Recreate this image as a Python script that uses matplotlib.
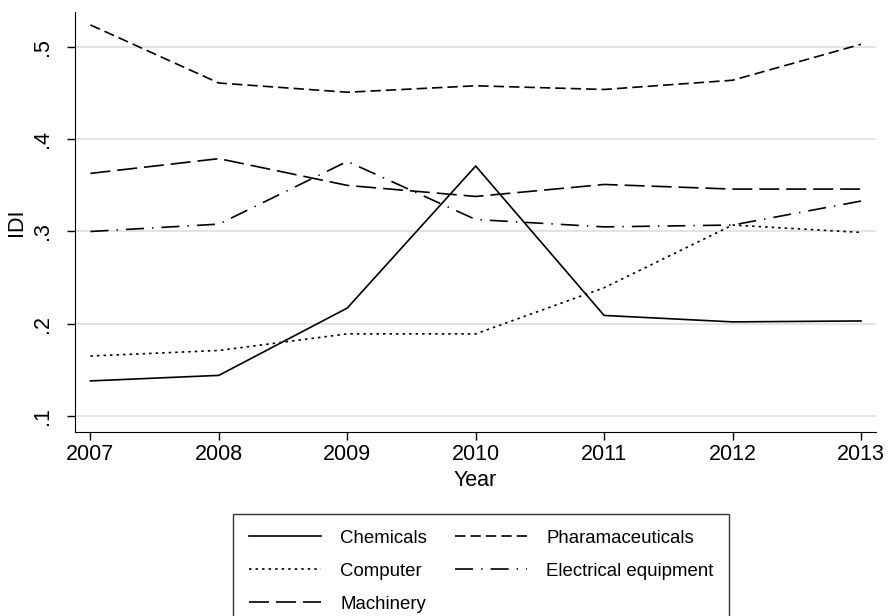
import matplotlib
matplotlib.use("Agg")
from matplotlib import pyplot as plt

# Values
years = [2007, 2008, 2009, 2010, 2011, 2012, 2013]
chemicals = [0.138, 0.144, 0.217, 0.371, 0.209, 0.202, 0.203]
computer = [0.165, 0.171, 0.189, 0.189, 0.239, 0.307, 0.299]
pharma = [0.524, 0.461, 0.451, 0.458, 0.454, 0.464, 0.503]
electrical = [0.300, 0.308, 0.376, 0.313, 0.305, 0.307, 0.333]
machinery = [0.363, 0.379, 0.350, 0.338, 0.351, 0.346, 0.346]
yticks = [0.1, 0.2, 0.3, 0.4, 0.5]
ytick_labels = [".1", ".2", ".3", ".4", ".5"]

plt.rcParams["font.family"] = ["Liberation Sans", "DejaVu Sans"]
plt.rcParams["lines.scale_dashes"] = False

fig = plt.figure(figsize=(8.89, 6.16), dpi=100)
# axes box: spine at x=75..876 px, y=12..432 px
ax = fig.add_axes([75 / 889, 1 - 432 / 616, 801 / 889, 420 / 616])

lw = 1.2
l_chem, = ax.plot(years, chemicals, color="black", lw=lw, label="Chemicals")
l_comp, = ax.plot(years, computer, color="black", lw=lw, dashes=(1.8, 2.9), label="Computer")
l_mach, = ax.plot(years, machinery, color="black", lw=lw, dashes=(14.4, 5.0), label="Machinery")
l_phar, = ax.plot(years, pharma, color="black", lw=lw, dashes=(7.5, 3.6), label="Pharamaceuticals")
l_elec, = ax.plot(years, electrical, color="black", lw=lw, dashes=(13.0, 5.8, 1.0, 5.8), label="Electrical equipment")

ax.set_xlim(2006.88, 2013.117)
ax.set_ylim(0.0826, 0.538)
ax.set_xticks(years)
ax.set_yticks(yticks)
ax.set_yticklabels(ytick_labels, rotation=90, va="center")
ax.tick_params(axis="both", direction="out", length=5.5, width=1, labelsize=15.5, colors="black")
ax.tick_params(axis="y", pad=10)
ax.grid(axis="y", color="#e3e3e3", lw=1.4)
ax.set_axisbelow(True)
for s in ["top", "right"]:
    ax.spines[s].set_visible(False)
ax.set_xlabel("Year", fontsize=15.5, labelpad=3)
ax.set_ylabel("IDI", fontsize=15.5)
ax.yaxis.set_label_coords((16 - 75) / 801, 0.5)
ax.yaxis.label.set_va("center")

# legend box sits below the plot, partly cut by the bottom edge
leg = fig.legend(handles=[l_chem, l_comp, l_mach, l_phar, l_elec], ncol=2,
                 loc="upper left", bbox_to_anchor=(233 / 889, 1 - 514 / 616),
                 fontsize=13.4, frameon=True, fancybox=False, edgecolor="black",
                 handlelength=3.9, handletextpad=1.0, columnspacing=1.5,
                 labelspacing=0.85, borderpad=0.85, borderaxespad=0)
leg.get_frame().set_linewidth(1.0)

fig.savefig("out.png", dpi=100)
